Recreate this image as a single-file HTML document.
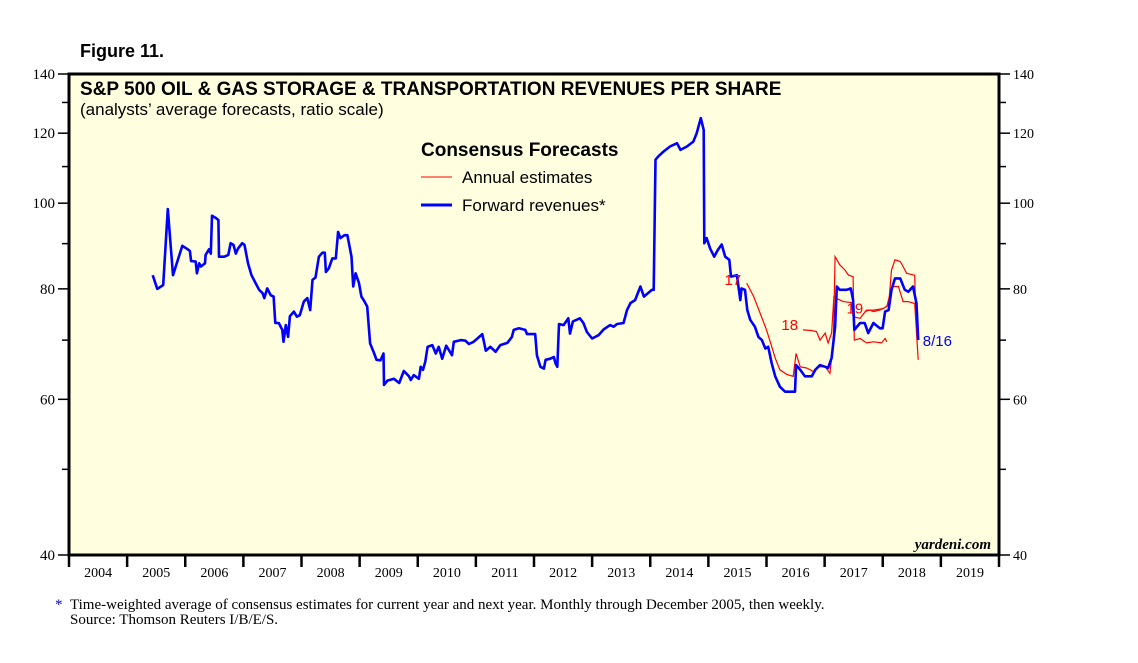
<!DOCTYPE html>
<html><head><meta charset="utf-8"><style>
body{margin:0;background:#fff;}
svg{display:block;font-family:"Liberation Sans",sans-serif;}
.serif{font-family:"Liberation Serif",serif;}
</style></head><body>
<svg id="chart" width="1138" height="663" viewBox="0 0 1138 663" xmlns="http://www.w3.org/2000/svg">
<text x="80" y="57" font-size="18" font-weight="bold">Figure 11.</text>
<rect x="69" y="74" width="930" height="481" fill="#ffffe0"/>
<g id="axes"></g>
<g id="series"></g>
<rect x="69" y="74" width="930" height="481" fill="none" stroke="#000" stroke-width="3"/>
<text x="80" y="95" font-size="19" font-weight="bold">S&amp;P 500 OIL &amp; GAS STORAGE &amp; TRANSPORTATION REVENUES PER SHARE</text>
<text x="80" y="115" font-size="17">(analysts’ average forecasts, ratio scale)</text>
<text x="421" y="156" font-size="19" font-weight="bold">Consensus Forecasts</text>
<line x1="421" y1="177" x2="452" y2="177" stroke="#ff0000" stroke-width="1"/>
<text x="462" y="183" font-size="17">Annual estimates</text>
<line x1="421" y1="205" x2="452" y2="205" stroke="#0000ff" stroke-width="3"/>
<text x="462" y="211" font-size="17">Forward revenues*</text>
<text x="991" y="549" font-size="15" font-style="italic" font-weight="bold" text-anchor="end" class="serif">yardeni.com</text>
<text x="55" y="609" font-size="15" fill="#0000cc" class="serif">*</text>
<text x="70" y="609" font-size="15" class="serif">Time-weighted average of consensus estimates for current year and next year. Monthly through December 2005, then weekly.</text>
<text x="70" y="624" font-size="15" class="serif">Source: Thomson Reuters I/B/E/S.</text>
</svg>
<script>
const yTicks=[40,60,80,100,120,140];
const yMinor=[50,70,90,110,130];
const years=[2004,2005,2006,2007,2008,2009,2010,2011,2012,2013,2014,2015,2016,2017,2018,2019];
const forwardRevenues=[[2005.44,82.9],[2005.52,80.0],[2005.62,80.8],[2005.70,98.5],[2005.79,82.9],[2005.95,89.5],[2006.03,88.8],[2006.08,88.3],[2006.10,86.0],[2006.18,85.9],[2006.20,83.3],[2006.24,85.5],[2006.27,84.8],[2006.34,85.5],[2006.35,87.4],[2006.41,88.7],[2006.44,87.7],[2006.46,96.8],[2006.53,96.2],[2006.57,95.7],[2006.58,87.0],[2006.67,87.0],[2006.74,87.4],[2006.78,90.1],[2006.83,89.7],[2006.87,87.7],[2006.91,88.9],[2006.98,90.1],[2007.02,89.7],[2007.08,85.5],[2007.14,82.9],[2007.21,81.2],[2007.27,79.8],[2007.33,79.1],[2007.36,78.1],[2007.41,80.1],[2007.47,78.7],[2007.52,78.4],[2007.55,73.2],[2007.61,73.2],[2007.67,71.9],[2007.69,69.7],[2007.73,72.8],[2007.77,70.6],[2007.80,74.5],[2007.87,75.4],[2007.92,74.4],[2007.97,74.7],[2008.04,77.4],[2008.10,78.1],[2008.15,75.7],[2008.19,81.9],[2008.24,82.4],[2008.30,87.0],[2008.36,87.9],[2008.40,87.9],[2008.42,83.6],[2008.47,84.4],[2008.53,86.6],[2008.59,86.6],[2008.63,92.8],[2008.67,91.3],[2008.74,92.0],[2008.79,92.0],[2008.86,87.0],[2008.89,80.5],[2008.93,83.3],[2008.99,81.2],[2009.03,78.4],[2009.07,77.7],[2009.13,76.4],[2009.18,69.4],[2009.25,67.6],[2009.29,66.5],[2009.36,66.4],[2009.41,67.6],[2009.42,62.3],[2009.48,63.0],[2009.59,63.3],[2009.68,62.6],[2009.76,64.6],[2009.85,63.7],[2009.88,63.1],[2009.93,63.9],[2010.02,63.3],[2010.05,65.3],[2010.09,64.8],[2010.13,66.2],[2010.17,68.8],[2010.25,69.1],[2010.31,67.6],[2010.36,68.8],[2010.42,66.7],[2010.49,69.0],[2010.59,67.3],[2010.62,69.7],[2010.74,70.0],[2010.82,69.9],[2010.88,69.3],[2010.96,69.7],[2011.11,71.1],[2011.17,68.1],[2011.25,68.8],[2011.34,67.9],[2011.42,69.1],[2011.54,69.5],[2011.62,70.6],[2011.65,71.9],[2011.74,72.2],[2011.85,71.9],[2011.88,71.1],[2012.02,71.1],[2012.05,67.3],[2012.11,65.3],[2012.17,65.0],[2012.20,66.5],[2012.28,66.7],[2012.34,67.0],[2012.37,65.9],[2012.40,65.3],[2012.43,73.0],[2012.51,72.8],[2012.59,74.1],[2012.62,71.2],[2012.67,73.5],[2012.79,74.1],[2012.85,73.2],[2012.91,71.5],[2013.00,70.3],[2013.11,70.9],[2013.20,72.0],[2013.31,72.8],[2013.37,72.5],[2013.43,73.0],[2013.54,73.2],[2013.60,75.7],[2013.66,77.1],[2013.74,77.7],[2013.83,80.5],[2013.89,78.4],[2014.03,79.8],[2014.06,79.8],[2014.09,112.0],[2014.14,113.0],[2014.23,114.4],[2014.34,115.9],[2014.46,116.9],[2014.52,114.9],[2014.63,115.9],[2014.74,117.4],[2014.80,120.0],[2014.87,124.8],[2014.92,121.0],[2014.93,90.1],[2014.97,91.3],[2015.03,88.9],[2015.10,87.0],[2015.16,88.5],[2015.23,89.8],[2015.29,87.0],[2015.36,86.3],[2015.39,82.6],[2015.49,82.9],[2015.55,77.7],[2015.57,80.1],[2015.63,79.8],[2015.67,75.7],[2015.72,73.8],[2015.80,72.5],[2015.86,70.6],[2015.92,70.0],[2015.98,68.5],[2016.03,68.8],[2016.09,65.9],[2016.15,63.7],[2016.23,62.0],[2016.32,61.2],[2016.43,61.2],[2016.49,61.2],[2016.51,65.6],[2016.58,64.8],[2016.66,63.7],[2016.78,63.7],[2016.84,64.8],[2016.92,65.6],[2017.01,65.3],[2017.06,65.1],[2017.12,66.8],[2017.18,72.5],[2017.21,80.5],[2017.26,79.8],[2017.38,79.8],[2017.45,80.1],[2017.49,77.7],[2017.51,71.9],[2017.61,73.2],[2017.69,73.2],[2017.75,71.3],[2017.84,73.2],[2017.95,72.2],[2017.997,72.2],[2018.04,75.4],[2018.10,75.7],[2018.15,79.8],[2018.21,82.2],[2018.30,82.2],[2018.38,79.8],[2018.44,79.4],[2018.52,80.5],[2018.58,77.0],[2018.61,70.0]];
const est2017=[[2015.66,81.2],[2015.78,78.4],[2015.89,75.1],[2016.00,71.9],[2016.07,69.5],[2016.15,66.8],[2016.23,64.8],[2016.35,64.0],[2016.46,63.7],[2016.51,67.6],[2016.58,65.3],[2016.69,65.1],[2016.81,64.5],[2016.89,65.3],[2017.01,65.3],[2017.09,64.2],[2017.15,69.5],[2017.18,87.0],[2017.26,85.2],[2017.35,84.0],[2017.41,82.9],[2017.49,82.6],[2017.51,70.0],[2017.61,70.3],[2017.72,69.5],[2017.84,69.7],[2017.98,69.5],[2018.04,70.3],[2018.07,69.7]];
const est2018=[[2016.63,71.9],[2016.75,71.8],[2016.86,71.6],[2016.92,70.0],[2017.01,71.3],[2017.06,69.5],[2017.12,71.3],[2017.16,78.4],[2017.21,78.0],[2017.32,77.4],[2017.46,77.2],[2017.49,74.4],[2017.61,74.1],[2017.72,75.7],[2017.84,75.7],[2018.01,76.0],[2018.10,76.7],[2018.15,84.0],[2018.21,86.3],[2018.30,85.9],[2018.35,84.8],[2018.41,83.3],[2018.55,82.9],[2018.57,73.8]];
const est2019=[[2017.69,75.4],[2017.78,75.7],[2017.84,75.4],[2017.95,75.7],[2018.07,76.4],[2018.12,78.7],[2018.18,80.5],[2018.27,80.5],[2018.35,77.4],[2018.44,77.4],[2018.55,77.0],[2018.61,66.5]];
const estLabels=[["17",2015.42,81.9],["18",2016.40,72.8],["19",2017.52,76.0]];
const lastLabel=["8/16",2018.62,70.0];

const X0=69,X1=999,Y0=74,Y1=555,VMIN=40,VMAX=140;
const xs=t=>X0+(t-2004)/16*(X1-X0);
const ys=v=>Y0+Math.log(VMAX/v)/Math.log(VMAX/VMIN)*(Y1-Y0);
const NS="http://www.w3.org/2000/svg";
function mk(tag,attrs,parent,text){const e=document.createElementNS(NS,tag);for(const k in attrs)e.setAttribute(k,attrs[k]);if(text!==undefined)e.textContent=text;parent.appendChild(e);return e;}
const axes=document.getElementById('axes'),ser=document.getElementById('series');
yTicks.forEach(v=>{const y=ys(v);
 let l=mk('line',{x1:58,x2:X0,y1:y,y2:y,stroke:'#000','stroke-width':1.5},axes);
 
 
 let r=mk('line',{x1:X1,x2:1010,y1:y,y2:y,stroke:'#000','stroke-width':1.5},axes);
 
 
 let t=mk('text',{x:55,y:y+5,'font-size':15,'text-anchor':'end','class':'serif'},axes,String(v));
 
 
 let t2=mk('text',{x:1013,y:y+5,'font-size':14,'class':'serif'},axes,String(v));
 
 
});
yMinor.forEach(v=>{const y=ys(v);
 let l=mk('line',{x1:62,x2:X0,y1:y,y2:y,stroke:'#000','stroke-width':1.5},axes);
 
 
 let r=mk('line',{x1:X1,x2:1006,y1:y,y2:y,stroke:'#000','stroke-width':1.5},axes);
 
 
});
years.forEach(yr=>{const x=xs(yr);
 let l=mk('line',{x1:x,x2:x,y1:Y1,y2:567,stroke:'#000','stroke-width':2.5},axes);
 
 
 let t=mk('text',{x:xs(yr+0.5),y:577,'font-size':14,'text-anchor':'middle','class':'serif'},axes,String(yr));
 
 
});
{let l=mk('line',{x1:X1,x2:X1,y1:Y1,y2:567,stroke:'#000','stroke-width':2.5},axes);
 
 }
function path(d){return d.map((p,i)=>(i?'L':'M')+xs(p[0]).toFixed(1)+','+ys(p[1]).toFixed(1)).join('');}
[[est2017,'annual-estimate-2017'],[est2018,'annual-estimate-2018'],[est2019,'annual-estimate-2019']].forEach(([d,n])=>{
 let p=mk('path',{d:path(d),fill:'none',stroke:'#ff0000','stroke-width':1.2},ser);
 
 
});
{let p=mk('path',{d:path(forwardRevenues),fill:'none',stroke:'#0000ff','stroke-width':2.6,'stroke-linejoin':'round'},ser);
 
 }
estLabels.forEach(([s,t,v])=>{
 let e=mk('text',{x:xs(t),y:ys(v)+5,'font-size':15,fill:'#ff0000','text-anchor':'middle'},ser,s);
 
 
});
{let e=mk('text',{x:xs(lastLabel[1])+4,y:ys(lastLabel[2])+6,'font-size':15,fill:'#0000ff'},ser,lastLabel[0]);
 
 }
</script>
</body></html>
